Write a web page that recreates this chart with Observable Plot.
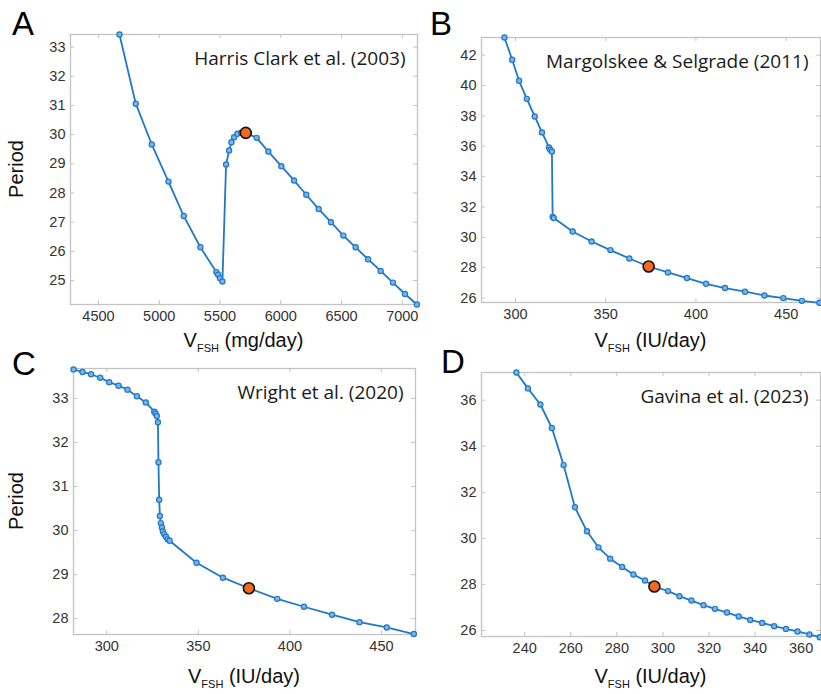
<!DOCTYPE html>
<html><head><meta charset="utf-8">
<script src="https://cdn.jsdelivr.net/npm/d3@7"></script>
<script src="https://cdn.jsdelivr.net/npm/@observablehq/plot@0.6"></script>
<style>
body{margin:0;background:#fff;}
#wrap{position:relative;width:821px;height:694px;overflow:hidden;font-family:"Liberation Sans",Arial,sans-serif;background:#fff;}
.panel{position:absolute;}
.letter{position:absolute;font-size:33px;line-height:33px;color:#000;}
.xl{position:absolute;font-size:20px;line-height:20px;white-space:nowrap;transform:translateX(-50%);color:#111;}
.xl .sub{font-size:11px;position:relative;top:5px;}
.yl{position:absolute;font-size:20px;line-height:20px;white-space:nowrap;transform:translate(-50%,-50%) rotate(-90deg);color:#111;}
</style></head>
<body><div id="wrap"></div>
<script>
// Panel A: Harris Clark et al. (2003)
const aX = [4673, 4807, 4939, 5076, 5202, 5339, 5470, 5485, 5500, 5520, 5550, 5575, 5594, 5616, 5643, 5675, 5712, 5802, 5898, 6005, 6109, 6210, 6312, 6413, 6515, 6616, 6718, 6822, 6923, 7022, 7120];
const aY = [33.43, 31.06, 29.66, 28.39, 27.21, 26.14, 25.29, 25.20, 25.08, 24.97, 28.98, 29.46, 29.74, 29.91, 30.03, 30.07, 30.06, 29.89, 29.42, 28.92, 28.43, 27.94, 27.45, 27.0, 26.54, 26.14, 25.73, 25.33, 24.93, 24.54, 24.18];
const aHighlight = [5712, 30.06];
const aXTicks = [4500, 5000, 5500, 6000, 6500, 7000];
const aYTicks = [25, 26, 27, 28, 29, 30, 31, 32, 33];

// Panel B: Margolskee & Selgrade (2011)
const bX = [293.9, 298.2, 302.0, 306.3, 310.7, 314.7, 318.6, 319.3, 320.2, 320.6, 321.2, 331.7, 342.2, 352.6, 363.1, 373.8, 384.5, 395.0, 405.6, 416.1, 427.2, 437.9, 448.4, 458.7, 468.4];
const bY = [43.16, 41.69, 40.31, 39.12, 37.96, 36.91, 35.92, 35.77, 35.66, 31.35, 31.27, 30.39, 29.73, 29.16, 28.61, 28.08, 27.69, 27.32, 26.94, 26.66, 26.42, 26.17, 26.0, 25.82, 25.69];
const bHighlight = [373.8, 28.08];
const bXTicks = [300, 350, 400, 450];
const bYTicks = [26, 28, 30, 32, 34, 36, 38, 40, 42];

// Panel C: Wright et al. (2020)
const cX = [281.8, 286.7, 291.4, 296.4, 301.3, 306.4, 311.3, 316.4, 321.3, 325.9, 326.6, 327.3, 327.9, 328.2, 328.6, 329.0, 329.5, 330.1, 330.6, 331.3, 332.3, 333.2, 334.3, 349.0, 363.4, 377.6, 393.1, 407.7, 423.0, 438.0, 452.9, 467.7];
const cY = [33.66, 33.60, 33.55, 33.47, 33.37, 33.29, 33.20, 33.05, 32.91, 32.70, 32.66, 32.60, 32.46, 31.55, 30.70, 30.33, 30.17, 30.07, 29.98, 29.92, 29.86, 29.80, 29.77, 29.27, 28.93, 28.69, 28.45, 28.27, 28.09, 27.92, 27.80, 27.65];
const cHighlight = [377.6, 28.69];
const cXTicks = [300, 350, 400, 450];
const cYTicks = [28, 29, 30, 31, 32, 33];

// Panel D: Gavina et al. (2023)
const dX = [236.4, 241.4, 246.8, 251.8, 256.9, 261.8, 267.0, 272.0, 277.1, 282.3, 287.2, 292.2, 296.3, 302.2, 307.2, 312.4, 317.6, 322.6, 327.8, 332.9, 337.9, 343.1, 348.3, 353.4, 358.4, 363.6, 368.1];
const dY = [37.2, 36.51, 35.81, 34.79, 33.18, 31.35, 30.31, 29.61, 29.12, 28.76, 28.43, 28.17, 27.91, 27.71, 27.49, 27.30, 27.10, 26.94, 26.78, 26.61, 26.46, 26.33, 26.19, 26.07, 25.96, 25.83, 25.71];
const dHighlight = [296.3, 27.91];
const dXTicks = [240, 260, 280, 300, 320, 340, 360];
const dYTicks = [26, 28, 30, 32, 34, 36];

const panelTitles = ["Harris Clark et al. (2003)", "Margolskee & Selgrade (2011)", "Wright et al. (2020)", "Gavina et al. (2023)"];
const panelLetters = ["A", "B", "C", "D"];
const xLabelUnits = ["(mg/day)", "(IU/day)", "(IU/day)", "(IU/day)"];
const yLabel = "Period";

const wrap = document.getElementById("wrap");
const fmt = d3.format("d");

function panel(o) {
  const pts = o.xs.map((x, i) => ({x, y: o.ys[i]}));
  const fh = o.height - o.mT - o.mB;
  const fw = o.width - o.mL - o.mR;
  const tl = 4;
  const col = "#1f78c8";
  const fc = "#c3c3c3";
  const chart = Plot.plot({
    width: o.width, height: o.height,
    marginLeft: o.mL, marginRight: o.mR, marginTop: o.mT, marginBottom: o.mB,
    style: {fontFamily: "'Liberation Sans', Arial, sans-serif", background: "transparent", overflow: "visible"},
    x: {domain: o.xDomain, label: null},
    y: {domain: o.yDomain, label: null},
    marks: [
      Plot.frame({stroke: fc, strokeWidth: 1.3}),
      Plot.tickX(o.xTicks, {x: d => d, insetBottom: fh - tl, stroke: fc}),
      Plot.tickX(o.xTicks, {x: d => d, insetTop: fh - tl, stroke: fc}),
      Plot.tickY(o.yTicks, {y: d => d, insetRight: fw - tl, stroke: fc}),
      Plot.tickY(o.yTicks, {y: d => d, insetLeft: fw - tl, stroke: fc}),
      Plot.axisX(o.xTicks, {tickSize: 0, tickPadding: 6, fontSize: 14.5, fill: "#333", label: null, tickFormat: fmt}),
      Plot.axisY(o.yTicks, {tickSize: 0, tickPadding: 5, fontSize: 14.5, fill: "#333", label: null, tickFormat: fmt}),
      Plot.line(pts, {x: "x", y: "y", stroke: col, strokeWidth: 1.8}),
      Plot.dot(pts, {x: "x", y: "y", r: 2.6, stroke: col, fill: "#7db4e6", strokeWidth: 1.2}),
      Plot.dot([{x: o.hl[0], y: o.hl[1]}], {x: "x", y: "y", r: 5.5, fill: "#f26a21", stroke: "#111", strokeWidth: 1.6}),
      Plot.text([o.title], {text: d => d, frameAnchor: "top-right", dx: -12, dy: 30, lineAnchor: "bottom", textAnchor: "end", fontSize: 19, fontFamily: "'Open Sans', sans-serif", fill: "#1a1a1a"})
    ]
  });
  chart.classList.add("panel");
  chart.style.left = o.left + "px";
  chart.style.top = o.top + "px";
  wrap.appendChild(chart);

  const L = document.createElement("div");
  L.className = "letter";
  L.textContent = o.letter;
  L.style.left = o.letterPos[0] + "px";
  L.style.top = o.letterPos[1] + "px";
  wrap.appendChild(L);

  const xl = document.createElement("div");
  xl.className = "xl";
  xl.innerHTML = 'V<span class="sub">FSH</span> ' + o.units;
  xl.style.left = (o.left + o.mL + fw / 2) + "px";
  xl.style.top = o.xlTop + "px";
  wrap.appendChild(xl);

  if (o.showY) {
    const yl = document.createElement("div");
    yl.className = "yl";
    yl.textContent = yLabel;
    yl.style.left = "16px";
    yl.style.top = (o.top + o.mT + fh / 2) + "px";
    wrap.appendChild(yl);
  }
}

panel({xs: aX, ys: aY, hl: aHighlight, xDomain: [4270, 7125], yDomain: [24.18, 33.43], xTicks: aXTicks, yTicks: aYTicks,
  title: panelTitles[0], letter: panelLetters[0], units: xLabelUnits[0], showY: true,
  left: 0, top: 0, width: 420, height: 330, mL: 70, mR: 3, mT: 34, mB: 26, letterPos: [12, 7], xlTop: 330});
panel({xs: bX, ys: bY, hl: bHighlight, xDomain: [281.2, 469], yDomain: [25.71, 43.16], xTicks: bXTicks, yTicks: bYTicks,
  title: panelTitles[1], letter: panelLetters[1], units: xLabelUnits[1], showY: false,
  left: 410, top: 0, width: 411, height: 330, mL: 71, mR: 1, mT: 37, mB: 28, letterPos: [430, 7], xlTop: 330});
panel({xs: cX, ys: cY, hl: cHighlight, xDomain: [281.8, 468.6], yDomain: [27.64, 33.68], xTicks: cXTicks, yTicks: cYTicks,
  title: panelTitles[2], letter: panelLetters[2], units: xLabelUnits[2], showY: true,
  left: 0, top: 340, width: 420, height: 330, mL: 73, mR: 5, mT: 28, mB: 36, letterPos: [12, 347], xlTop: 666});
panel({xs: dX, ys: dY, hl: dHighlight, xDomain: [221.25, 368.4], yDomain: [25.74, 37.2], xTicks: dXTicks, yTicks: dYTicks,
  title: panelTitles[3], letter: panelLetters[3], units: xLabelUnits[3], showY: false,
  left: 410, top: 340, width: 411, height: 330, mL: 71, mR: 1, mT: 32, mB: 34, letterPos: [441, 345], xlTop: 666});
</script>
</body></html>
